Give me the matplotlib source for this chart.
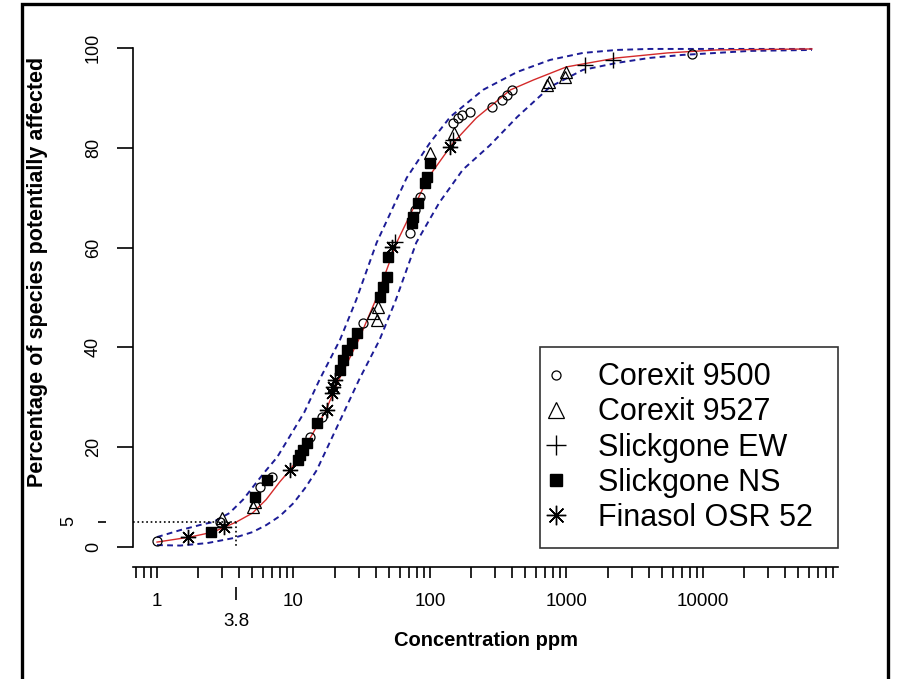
import matplotlib.pyplot as plt
from matplotlib.lines import Line2D
from matplotlib.patches import Rectangle
from matplotlib.ticker import LogLocator, NullFormatter, FixedLocator

plt.rcParams['font.family'] = ['Liberation Sans', 'DejaVu Sans']

# fitted species sensitivity curve (concentration ppm, % affected)
fit_x = [1.0, 1.74, 2.57, 3.8, 5.0, 6.3, 7.9, 9.4, 11.0, 17.0, 21.5, 30.0, 40.0,
         57.0, 97, 148, 219, 389, 575, 1000, 2340, 5500, 12600, 63000]
fit_y = [1.0, 2.0, 3.0, 5.0, 6.8, 9.5, 13.0, 15.4, 18.0, 27.0, 33.5, 41.5, 49.5,
         61.0, 74.0, 81.0, 86.0, 91.6, 93.6, 96.2, 98.0, 99.0, 99.6, 99.8]

# upper and lower confidence limits
upper_x = [1.0, 1.48, 2.19, 2.57, 3.39, 4.27, 5.37, 6.31, 7.59, 12.0, 15.5, 21.9,
           28.8, 40.7, 67.6, 100, 141, 245, 437, 759, 1320, 2340, 4070, 63000]
upper_y = [2.0, 3.4, 4.6, 5.0, 6.8, 9.5, 13.0, 15.4, 18.0, 27.0, 33.5, 41.5,
           49.5, 61.0, 74.0, 81.0, 86.2, 91.6, 95.2, 97.6, 99.0, 99.6, 99.8, 99.8]
lower_x = [1.0, 1.48, 2.34, 3.63, 5.01, 6.31, 7.94, 10.0, 12.3, 14.8, 23.4, 30.2,
           42.7, 56.2, 79.4, 117, 174, 275, 437, 759, 1320, 2340, 4070, 7080,
           12600, 21900, 63000]
lower_y = [0.4, 0.3, 0.8, 1.8, 3.0, 4.4, 6.2, 8.8, 12.0, 15.4, 27.0, 33.5, 41.5,
           49.5, 61.0, 69.0, 75.6, 80.5, 86.2, 92.2, 95.6, 97.0, 98.0, 98.6,
           99.0, 99.4, 99.6]

# toxicity data by dispersant (ppm, plotting position %)
c9500_x = [1.0, 2.9, 5.7, 7.0, 13.2, 16.2, 32.3, 71, 78, 84, 148, 160, 172, 196,
           283, 337, 368, 400, 8300]
c9500_y = [1.2, 5.0, 12.0, 14.0, 22.0, 26.1, 44.9, 62.9, 67.5, 70.1, 85.0, 86.0,
           86.6, 87.2, 88.2, 89.6, 90.6, 91.6, 98.8]
c9527_x = [3.0, 5.05, 5.2, 38.2, 40.9, 41.5, 100, 150, 720, 740, 975, 1000]
c9527_y = [5.8, 8.0, 9.0, 46.9, 45.5, 48.1, 79.0, 83.0, 92.6, 93.2, 94.2, 95.2]
sew_x = [55.4, 147, 1370, 2190]
sew_y = [61.1, 81.6, 96.6, 97.6]
sns_x = [2.5, 5.2, 6.4, 10.8, 11.2, 11.7, 12.6, 14.9, 21.9, 23.0, 24.7, 26.8, 29.2,
         43.0, 45.3, 48.4, 49.2, 73.8, 75.0, 81.6, 91.9, 95.1, 100]
sns_y = [3.0, 10.0, 13.4, 17.4, 18.4, 19.4, 20.8, 24.8, 35.5, 37.5, 39.5, 40.9,
         42.9, 50.1, 52.1, 54.1, 58.1, 64.9, 66.1, 68.9, 72.9, 74.1, 77.0]
fin_x = [1.7, 3.1, 9.4, 17.6, 19.1, 19.5, 20.1, 52.7, 140]
fin_y = [2.0, 4.0, 15.4, 27.5, 30.9, 32.1, 33.5, 60.1, 80.2]

hc5 = 3.8
labels = ['Corexit 9500', 'Corexit 9527', 'Slickgone EW', 'Slickgone NS',
          'Finasol OSR 52']

fig = plt.figure(figsize=(8.97, 6.79), dpi=100)
ax = fig.add_axes([0.1483, 0.1649, 0.7859, 0.7939])
ax.set_xscale('log')
ax.set_xlim(0.667, 97700)
ax.set_ylim(-4, 104)

ax.plot(upper_x, upper_y, color='#1c1c96', ls=(0, (3, 2.2)), lw=1.4)
ax.plot(lower_x, lower_y, color='#1c1c96', ls=(0, (3, 2.2)), lw=1.4)
ax.plot(fit_x, fit_y, color='#d42a2a', lw=1.0)

# HC5 guide lines
ax.plot([0.667, hc5], [5, 5], color='black', ls=':', lw=1.2)
ax.plot([hc5, hc5], [5, 0], color='black', ls=':', lw=1.2)

star = (8, 2, 0)
ax.plot(c9500_x, c9500_y, ls='none', marker='o', ms=6.5, mfc='none', mec='black', mew=0.9)
ax.plot(c9527_x, c9527_y, ls='none', marker='^', ms=8, mfc='none', mec='black', mew=0.9)
ax.plot(sew_x, sew_y, ls='none', marker='+', ms=11, mec='black', mew=1.0)
ax.plot(sns_x, sns_y, ls='none', marker='s', ms=6.5, mfc='black', mec='black')
ax.plot(fin_x, fin_y, ls='none', marker=star, ms=11, mec='black', mew=1.0)

for s in ['top', 'right']:
    ax.spines[s].set_visible(False)
ax.spines['left'].set_bounds(0, 100)
ax.spines['left'].set_linewidth(1.2)
ax.spines['bottom'].set_linewidth(1.2)

ax.set_yticks([0, 20, 40, 60, 80, 100])
ax.tick_params(axis='y', direction='out', length=11.5, width=1.2, pad=11,
               labelsize=13, labelrotation=90)
for t in ax.get_yticklabels():
    t.set_va('center')

ax.xaxis.set_major_locator(FixedLocator([1, 10, 100, 1000, 10000]))
ax.set_xticklabels(['1', '10', '100', '1000', '10000'])
ax.xaxis.set_minor_locator(LogLocator(base=10, subs=range(2, 10), numticks=20))
ax.xaxis.set_minor_formatter(NullFormatter())
ax.tick_params(axis='x', which='both', direction='out', length=8, width=1.2,
               pad=11, labelsize=13.5)

# extra HC5 tick marks on both axes
sx = ax.secondary_xaxis(-0.037)
sx.set_xticks([hc5])
sx.set_xticklabels(['3.8'])
sx.spines['bottom'].set_visible(False)
sx.tick_params(direction='out', length=9.5, width=1.2, pad=9, labelsize=13.5)
sx.xaxis.set_minor_locator(FixedLocator([]))

sy = ax.secondary_yaxis(-0.038)
sy.set_yticks([5])
sy.set_yticklabels(['5'])
sy.spines['left'].set_visible(False)
sy.tick_params(direction='out', length=6, width=1.2, pad=15, labelsize=13,
               labelrotation=90)

ax.set_xlabel('Concentration ppm', fontsize=14.5, fontweight='bold', labelpad=15)
fig.text(38 / 897, 1 - 272 / 679, 'Percentage of species potentially affected',
         rotation=90, fontsize=15.5, fontweight='bold', ha='center', va='center')

handles = [
    Line2D([], [], ls='none', marker='o', ms=6.5, mfc='none', mec='black', mew=0.9),
    Line2D([], [], ls='none', marker='^', ms=11, mfc='none', mec='black', mew=0.9),
    Line2D([], [], ls='none', marker='+', ms=14, mec='black', mew=1.0),
    Line2D([], [], ls='none', marker='s', ms=9, mfc='black', mec='black'),
    Line2D([], [], ls='none', marker=star, ms=14, mec='black', mew=1.0),
]
leg = ax.legend(handles, labels, loc='lower left', mode='expand',
                bbox_to_anchor=(0.577, 0.0353, 0.423, 0.371), fontsize=22,
                frameon=True, fancybox=False, borderpad=0.49, labelspacing=0.17,
                handlelength=0.1, handletextpad=1.3, borderaxespad=0)
leg.get_frame().set_edgecolor('black')
leg.get_frame().set_linewidth(1.2)

# outer frame around the whole picture
fig.add_artist(Rectangle((22 / 897, -0.02), 866 / 897, 1.02 - 4 / 679,
                         transform=fig.transFigure, fill=False, lw=2.4,
                         edgecolor='black'))

fig.savefig('out.png', dpi=100)
